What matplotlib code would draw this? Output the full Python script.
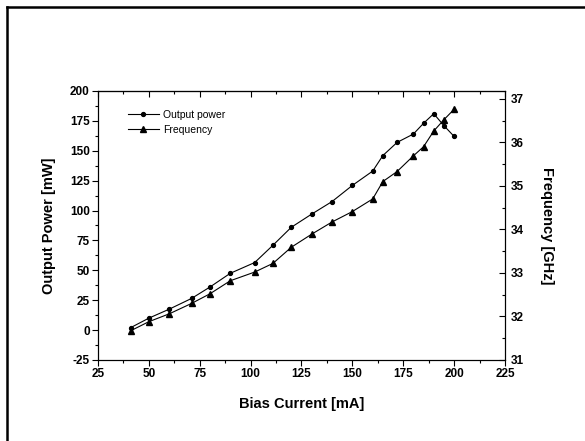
import matplotlib.pyplot as plt
from matplotlib.lines import Line2D
from matplotlib.ticker import MultipleLocator

plt.rcParams['font.family'] = ['Liberation Sans', 'DejaVu Sans']
plt.rcParams['axes.unicode_minus'] = False

# bias current (mA)
current = [41, 50, 60, 71, 80, 90, 102, 111, 120, 130,
           140, 150, 160, 165, 172, 180, 185, 190, 195, 200]

# output power (mW)
power = [2, 10, 17.5, 26.5, 36, 47.5, 56.5, 71, 86, 97,
         107.5, 121, 133, 146, 157, 164, 173, 181, 171, 162]

# frequency (GHz)
freq = [31.67, 31.88, 32.06, 32.30, 32.52, 32.82, 33.02, 33.22, 33.59, 33.89,
        34.17, 34.41, 34.70, 35.10, 35.33, 35.69, 35.90, 36.26, 36.52, 36.76]

fig = plt.figure(figsize=(5.85, 4.41), dpi=100)
ax = fig.add_axes([0.1675, 0.1837, 0.6957, 0.61])
ax2 = ax.twinx()

l1, = ax.plot(current, power, color='black', linewidth=0.8, marker='o',
              markersize=2.8, label='Output power')
l2, = ax2.plot(current, freq, color='black', linewidth=0.8, marker='^',
               markersize=4.8, label='Frequency')

ax.set_xlim(25, 225)
ax.set_ylim(-25, 200)
ax2.set_ylim(31, 37.18)

ax.xaxis.set_major_locator(MultipleLocator(25))
ax.xaxis.set_minor_locator(MultipleLocator(12.5))
ax.yaxis.set_major_locator(MultipleLocator(25))
ax.yaxis.set_minor_locator(MultipleLocator(12.5))
ax2.yaxis.set_major_locator(MultipleLocator(1))
ax2.yaxis.set_minor_locator(MultipleLocator(0.5))

ax.tick_params(which='major', direction='out', length=4, width=0.8,
               labelsize=8.5, pad=2)
ax.tick_params(which='minor', direction='out', length=2.2, width=0.8)
ax2.tick_params(which='major', direction='in', length=4, width=0.8,
                labelsize=8.5, pad=4)
ax2.tick_params(which='minor', direction='in', length=2.2, width=0.8)

top = ax.secondary_xaxis('top')
top.xaxis.set_major_locator(MultipleLocator(25))
top.xaxis.set_minor_locator(MultipleLocator(12.5))
top.tick_params(which='major', direction='in', length=4, width=0.8, labeltop=False)
top.tick_params(which='minor', direction='in', length=2.2, width=0.8)

for a in (ax, ax2):
    for lab in a.get_xticklabels() + a.get_yticklabels():
        lab.set_fontweight('bold')
    for s in a.spines.values():
        s.set_linewidth(0.8)

ax.set_xlabel('Bias Current [mA]', fontsize=10.5, fontweight='bold', labelpad=12)
ax.set_ylabel('Output Power [mW]', fontsize=10.5, fontweight='bold', labelpad=10)
ax2.set_ylabel('Frequency [GHz]', fontsize=10.5, fontweight='bold',
               rotation=270, labelpad=22)

ax.legend(handles=[l1, l2], loc='upper left', frameon=False, fontsize=7.5,
          handlelength=3.0, handletextpad=0.4, labelspacing=0.5,
          bbox_to_anchor=(0.05, 0.965))

# partial outer frame (top and left)
fig.add_artist(Line2D([0.012, 1.0], [0.985, 0.985], color='black', linewidth=1.8))
fig.add_artist(Line2D([0.012, 0.012], [0.0, 0.985], color='black', linewidth=1.8))

fig.savefig('out.png', dpi=100)
